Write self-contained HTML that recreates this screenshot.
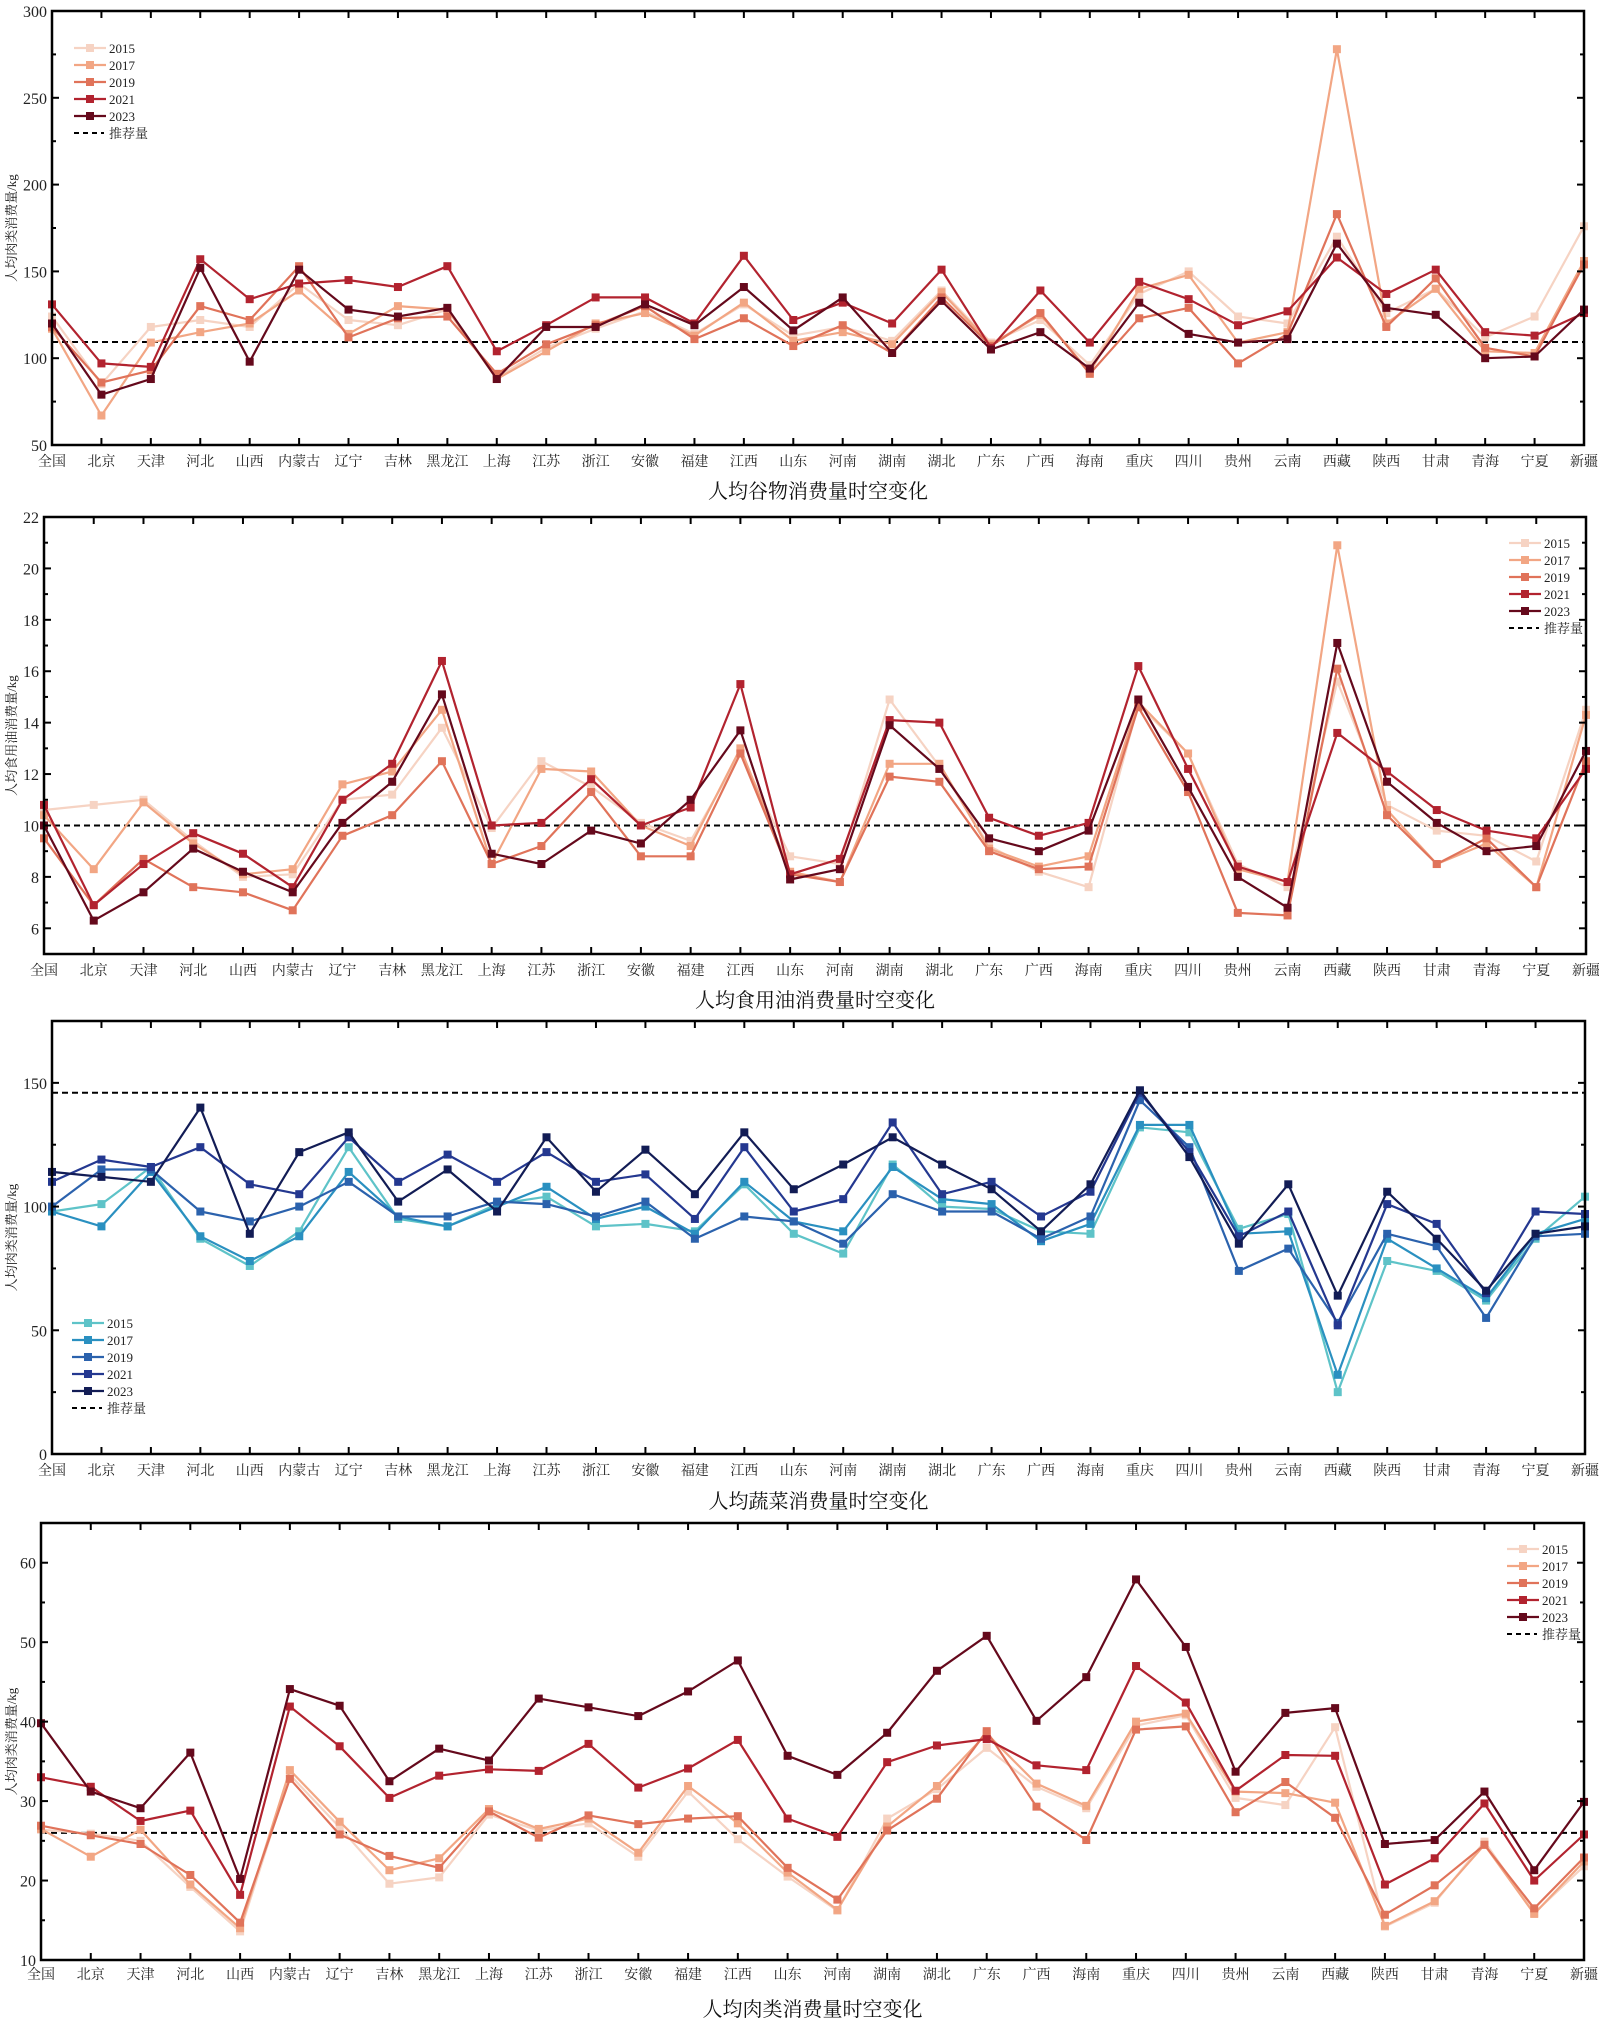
<!DOCTYPE html>
<html><head><meta charset="utf-8">
<style>
body{margin:0;background:#fff;}
svg{display:block;font-family:"Liberation Serif","Noto Serif CJK SC","Noto Sans CJK SC",serif;}
</style></head>
<body>
<svg id="chart" width="1599" height="2023" viewBox="0 0 1599 2023" xmlns="http://www.w3.org/2000/svg"></svg>
<script>
const categories = ["全国","北京","天津","河北","山西","内蒙古","辽宁","吉林","黑龙江","上海","江苏","浙江","安徽","福建","江西","山东","河南","湖南","湖北","广东","广西","海南","重庆","四川","贵州","云南","西藏","陕西","甘肃","青海","宁夏","新疆"];
const years = ["2015","2017","2019","2021","2023"];

const grain2015 = [124,85,118,122,118,143,122,119,128,89,106,117,127,114,131,113,118,110,139,109,122,96,137,150,124,120,170,126,140,112,124,176];
const grain2017 = [117,67,109,115,120,139,114,130,128,88,104,120,126,113,132,110,115,108,138,108,125,92,140,148,109,115,278,120,140,104,103,156];
const grain2019 = [118,86,93,130,122,153,112,123,124,91,108,119,130,111,123,107,119,103,135,107,126,91,123,129,97,114,183,118,146,106,101,154];
const grain2021 = [131,97,95,157,134,143,145,141,153,104,119,135,135,120,159,122,132,120,151,106,139,109,144,134,119,127,158,137,151,115,113,126];
const grain2023 = [120,79,88,152,98,151,128,124,129,88,118,118,131,119,141,116,135,103,133,105,115,94,132,114,109,111,166,129,125,100,101,128];
const grainRecommended = 109.3;

const oil2015 = [10.6,10.8,11.0,9.4,8.0,8.1,11.0,11.2,13.8,9.9,12.5,11.5,10.1,9.4,12.8,8.8,8.5,14.9,12.3,9.2,8.2,7.6,14.7,12.8,8.5,7.6,15.6,10.8,9.8,9.6,8.6,14.5];
const oil2017 = [10.4,8.3,10.9,9.3,8.1,8.3,11.6,12.1,14.5,8.5,12.2,12.1,10.0,9.2,13.0,8.2,7.8,12.4,12.4,9.1,8.4,8.8,14.8,12.8,8.3,7.8,20.9,10.6,8.5,9.3,7.6,14.3];
const oil2019 = [9.5,6.9,8.7,7.6,7.4,6.7,9.6,10.4,12.5,8.5,9.2,11.3,8.8,8.8,12.8,8.1,7.8,11.9,11.7,9.0,8.3,8.4,14.6,11.3,6.6,6.5,16.1,10.4,8.5,9.5,7.6,12.5];
const oil2021 = [10.8,6.9,8.5,9.7,8.9,7.6,11.0,12.4,16.4,10.0,10.1,11.8,10.0,10.7,15.5,8.1,8.7,14.1,14.0,10.3,9.6,10.1,16.2,12.2,8.4,7.8,13.6,12.1,10.6,9.8,9.5,12.2];
const oil2023 = [10.0,6.3,7.4,9.1,8.2,7.4,10.1,11.7,15.1,8.9,8.5,9.8,9.3,11.0,13.7,7.9,8.3,13.9,12.2,9.5,9.0,9.8,14.9,11.5,8.0,6.8,17.1,11.7,10.1,9.0,9.2,12.9];
const oilRecommended = 10;

const veg2015 = [98,101,116,87,76,90,124,95,92,101,104,92,93,90,109,89,81,117,100,99,90,89,132,130,91,97,25,78,74,62,87,104];
const veg2017 = [98,92,114,88,78,88,114,96,92,100,108,95,100,89,110,94,90,116,103,101,86,93,133,133,89,90,32,87,75,63,89,95];
const veg2019 = [100,115,115,98,94,100,110,96,96,102,101,96,102,87,96,94,85,105,98,98,87,96,143,124,74,83,53,89,84,55,88,89];
const veg2021 = [110,119,116,124,109,105,128,110,121,110,122,110,113,95,124,98,103,134,105,110,96,106,146,122,88,98,52,101,93,65,98,97];
const veg2023 = [114,112,110,140,89,122,130,102,115,98,128,106,123,105,130,107,117,128,117,107,90,109,147,120,85,109,64,106,87,66,89,92];
const vegRecommended = 146;

const meat2015 = [26.4,25.9,25.0,19.2,13.6,33.3,26.7,19.6,20.4,28.3,26.3,27.2,23.0,31.2,25.2,20.5,16.2,27.8,31.5,36.7,31.8,29.1,39.5,40.8,30.4,29.5,39.3,14.2,17.2,24.9,15.9,21.8];
const meat2017 = [26.5,23.0,26.4,19.5,14.0,33.9,27.4,21.3,22.8,29.0,26.5,27.8,23.5,31.9,27.2,21.0,16.3,26.8,31.9,38.5,32.2,29.4,40.0,41.0,31.2,31.0,29.8,14.3,17.4,24.5,15.8,22.4];
const meat2019 = [26.9,25.7,24.6,20.7,14.7,32.8,25.8,23.1,21.6,28.7,25.4,28.2,27.1,27.8,28.1,21.6,17.6,26.3,30.3,38.8,29.3,25.1,39.0,39.4,28.6,32.4,27.9,15.7,19.4,24.5,16.5,22.9];
const meat2021 = [33.0,31.8,27.5,28.8,18.2,41.9,36.9,30.4,33.2,34.0,33.8,37.2,31.7,34.1,37.7,27.8,25.5,34.9,37.0,37.8,34.5,33.9,47.0,42.4,31.3,35.8,35.7,19.5,22.8,29.7,20.0,25.8];
const meat2023 = [39.8,31.2,29.1,36.1,20.2,44.1,42.0,32.5,36.6,35.1,42.9,41.8,40.7,43.8,47.7,35.7,33.3,38.6,46.4,50.8,40.1,45.6,57.9,49.4,33.7,41.1,41.7,24.6,25.1,31.2,21.3,29.9];
const meatRecommended = 26;

const reds = ["#f6d3c3","#f2a684","#e0735a","#b2232f","#65091c"];
const blues = ["#5ec3c8","#2a90c0","#2b62ad","#243890","#121c55"];

const NS = "http://www.w3.org/2000/svg";
const svg = document.getElementById("chart");
function mk(tag, attrs, parent){
  const e = document.createElementNS(NS, tag);
  for (const k in attrs) e.setAttribute(k, attrs[k]);
  (parent||svg).appendChild(e);
  return e;
}

const panels = [
  {key:"grain", L:52, R:1584, T:11, B:445, ymin:50, ymax:300, major:50, minor:25, series:[grain2015,grain2017,grain2019,grain2021,grain2023], rec:grainRecommended, colors:reds, ytitle:"人均肉类消费量/kg", title:"人均谷物消费量时空变化", titleY:498, xlabY:466, legX:74, legY:48},
  {key:"oil", L:44, R:1586, T:517, B:954, ymin:5, ymax:22, major:2, minor:1, majorStart:6, series:[oil2015,oil2017,oil2019,oil2021,oil2023], rec:oilRecommended, colors:reds, ytitle:"人均食用油消费量/kg", title:"人均食用油消费量时空变化", titleY:1007, xlabY:975, legX:1509, legY:543},
  {key:"vegetable", L:52, R:1585, T:1021, B:1454, ymin:0, ymax:175, major:50, minor:25, series:[veg2015,veg2017,veg2019,veg2021,veg2023], rec:vegRecommended, colors:blues, ytitle:"人均肉类消费量/kg", title:"人均蔬菜消费量时空变化", titleY:1508, xlabY:1475, legX:72, legY:1323},
  {key:"meat", L:41, R:1584, T:1523, B:1960, ymin:10, ymax:65, major:10, minor:5, series:[meat2015,meat2017,meat2019,meat2021,meat2023], rec:meatRecommended, colors:reds, ytitle:"人均肉类消费量/kg", title:"人均肉类消费量时空变化", titleY:2016, xlabY:1979, legX:1507, legY:1549}
];

panels.forEach(p => {
  const g = mk("g", {});
  
  
  const n = categories.length;
  const xs = i => p.L + (p.R - p.L) * i / (n - 1);
  const ys = v => p.B - (v - p.ymin) / (p.ymax - p.ymin) * (p.B - p.T);

  // recommended line
  const rl = mk("line", {x1:p.L, x2:p.R, y1:ys(p.rec), y2:ys(p.rec), stroke:"#000", "stroke-width":2, "stroke-dasharray":"6,4"}, g);
  
  

  // series
  p.series.forEach((vals, si) => {
    const sg = mk("g", {}, g);
    
    
    const pts = vals.map((v,i) => xs(i).toFixed(1) + "," + ys(v).toFixed(1)).join(" ");
    mk("polyline", {points:pts, fill:"none", stroke:p.colors[si], "stroke-width":2.2, "stroke-linejoin":"round"}, sg);
    vals.forEach((v,i) => {
      const r = mk("rect", {x:xs(i)-4, y:ys(v)-4, width:8, height:8, fill:p.colors[si]}, sg);
      
      
    });
  });

  // frame
  const fr = mk("rect", {x:p.L, y:p.T, width:p.R-p.L, height:p.B-p.T, fill:"none", stroke:"#000", "stroke-width":2.5}, g);
  
  

  // x ticks and labels
  categories.forEach((c,i) => {
    const x = xs(i);
    mk("line", {x1:x, x2:x, y1:p.B, y2:p.B-7, stroke:"#000", "stroke-width":2}, g);
    mk("line", {x1:x, x2:x, y1:p.T, y2:p.T+7, stroke:"#000", "stroke-width":2}, g);
    const t = mk("text", {x:x, y:p.xlabY, "text-anchor":"middle", "font-size":14, fill:"#222"}, g);
    t.textContent = c;
    
    
  });

  // y ticks
  for (let v = p.ymin; v <= p.ymax + 1e-9; v += p.minor) {
    const y = ys(v);
    const start = p.majorStart !== undefined ? p.majorStart : p.ymin;
    const isMajor = Math.abs(((v - start) / p.major) - Math.round((v - start) / p.major)) < 1e-6 && v >= start;
    const len = isMajor ? 7 : 4;
    mk("line", {x1:p.L, x2:p.L+len, y1:y, y2:y, stroke:"#000", "stroke-width":2}, g);
    mk("line", {x1:p.R, x2:p.R-len, y1:y, y2:y, stroke:"#000", "stroke-width":2}, g);
    if (isMajor) {
      const t = mk("text", {x:p.L-5, y:y+6, "text-anchor":"end", "font-size":16, fill:"#222"}, g);
      t.textContent = String(v);
      
      
    }
  }

  // y title
  const cy = (p.T + p.B) / 2;
  const yt = mk("text", {x:0, y:0, transform:"translate(16," + cy + ") rotate(-90)", "text-anchor":"middle", "font-size":13, fill:"#222"}, g);
  yt.textContent = p.ytitle;
  
  

  // chart title
  const tt = mk("text", {x:(p.L+p.R)/2, y:p.titleY, "text-anchor":"middle", "font-size":20, fill:"#111"}, g);
  tt.textContent = p.title;
  
  

  // legend
  const lg = mk("g", {}, g);
  
  
  years.forEach((yr, si) => {
    const y = p.legY + si * 17;
    const eg = mk("g", {}, lg);
    
    
    mk("line", {x1:p.legX, x2:p.legX+32, y1:y, y2:y, stroke:p.colors[si], "stroke-width":2.2}, eg);
    mk("rect", {x:p.legX+12, y:y-4, width:8, height:8, fill:p.colors[si]}, eg);
    const t = mk("text", {x:p.legX+35, y:y+5, "font-size":13, fill:"#222"}, eg);
    t.textContent = yr;
  });
  const yr = p.legY + 5 * 17;
  const eg = mk("g", {}, lg);
  
  
  mk("line", {x1:p.legX, x2:p.legX+30, y1:yr, y2:yr, stroke:"#000", "stroke-width":2, "stroke-dasharray":"5,4"}, eg);
  const t = mk("text", {x:p.legX+35, y:yr+5, "font-size":13, fill:"#222"}, eg);
  t.textContent = "推荐量";
});
</script>
</body></html>
